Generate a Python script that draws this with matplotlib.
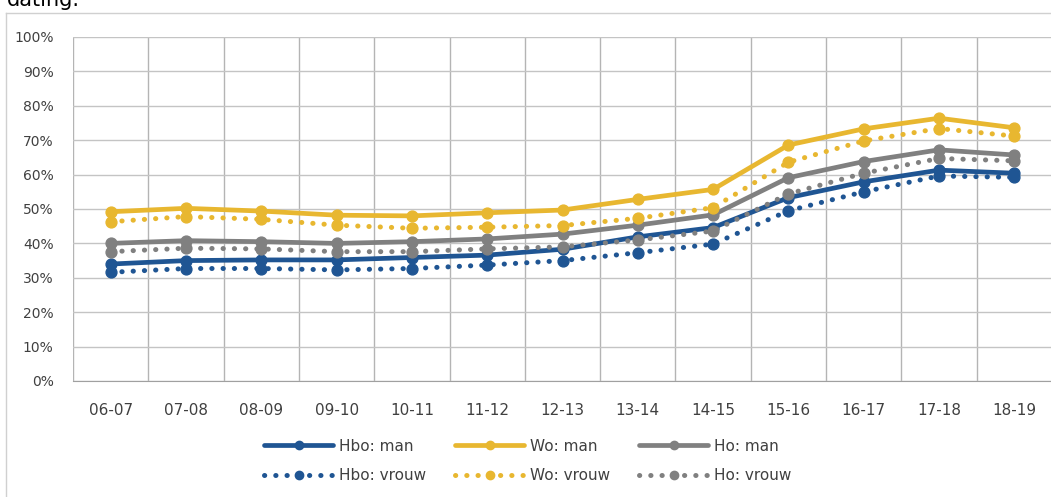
import numpy as np
from matplotlib import pyplot as plt

years = ['06-07', '07-08', '08-09', '09-10', '10-11', '11-12', '12-13',
         '13-14', '14-15', '15-16', '16-17', '17-18', '18-19']

# percentages
hbo_man   = [34.0, 35.0, 35.2, 35.2, 35.9, 36.6, 38.3, 41.9, 44.6, 53.3, 57.9, 61.3, 60.4]
hbo_vrouw = [31.6, 32.7, 32.7, 32.3, 32.7, 33.7, 35.0, 37.3, 39.8, 49.5, 55.0, 59.6, 59.2]
wo_man    = [49.2, 50.2, 49.4, 48.2, 48.0, 48.9, 49.7, 52.8, 55.7, 68.6, 73.3, 76.4, 73.6]
wo_vrouw  = [46.3, 47.8, 47.0, 45.3, 44.4, 44.7, 45.2, 47.3, 50.4, 63.6, 69.8, 73.4, 71.2]
ho_man    = [40.0, 40.8, 40.5, 40.0, 40.5, 41.3, 42.7, 45.3, 48.3, 59.1, 63.8, 67.2, 65.7]
ho_vrouw  = [37.6, 38.6, 38.4, 37.6, 37.6, 38.4, 39.0, 41.0, 43.6, 54.4, 60.4, 64.7, 64.0]

BLUE = '#1f5593'
YELLOW = '#e8b730'
GREY = '#808080'
TXT = '#404040'

W, H = 1051, 497
fig = plt.figure(figsize=(W / 100, H / 100), dpi=100)
fig.patch.set_facecolor('white')

# chart frame and the heading above it (cut off in the original)
fig.add_artist(plt.Line2D([6 / W, 6 / W], [0, 1 - 13 / H], color='#d0d0d0', lw=1))
fig.add_artist(plt.Line2D([6 / W, 1], [1 - 13 / H, 1 - 13 / H], color='#d0d0d0', lw=1))
fig.text(7 / W, 1 - 6 / H, 'dating.', fontsize=15, color='black', va='baseline')

ax = fig.add_axes([73 / W, 1 - 381 / H, (1052 - 73) / W, 344 / H])
x = np.arange(len(years))

solid = dict(lw=3.4, marker='o', ms=7.8, solid_capstyle='round')
dotted = dict(lw=3.6, marker='o', ms=7.8, ls=(0, (0.05, 2.2)), dash_capstyle='round')

l_hm, = ax.plot(x, hbo_man, color=BLUE, label='Hbo: man', **solid)
l_wm, = ax.plot(x, wo_man, color=YELLOW, label='Wo: man', **solid)
l_om, = ax.plot(x, ho_man, color=GREY, label='Ho: man', **solid)
l_hv, = ax.plot(x, hbo_vrouw, color=BLUE, label='Hbo: vrouw', **dotted)
l_wv, = ax.plot(x, wo_vrouw, color=YELLOW, label='Wo: vrouw', **dotted)
l_ov, = ax.plot(x, ho_vrouw, color=GREY, label='Ho: vrouw', **dotted)

ax.set_xlim(-0.5, len(years) - 0.5)
ax.set_ylim(0, 100)
ax.set_yticks(np.arange(0, 101, 10))
ax.set_yticklabels([f'{v}%' for v in range(0, 101, 10)])
ax.set_xticks(x)
ax.set_xticklabels(years)
ax.set_xticks(np.arange(-0.5, len(years), 1), minor=True)

ax.grid(axis='y', which='major', color='#c4c4c4', lw=1)
ax.grid(axis='x', which='minor', color='#b4b4b4', lw=1)
ax.set_axisbelow(True)
for s in ['top', 'right', 'left']:
    ax.spines[s].set_visible(False)
ax.spines['bottom'].set_color('#a0a0a0')

ax.tick_params(axis='both', which='both', length=0)
ax.tick_params(axis='y', labelsize=10, colors=TXT, pad=14)
ax.tick_params(axis='x', labelsize=11, colors=TXT, pad=16)

handles = [l_hm, l_hv, l_wm, l_wv, l_om, l_ov]
leg = fig.legend(handles=handles, ncol=3, loc='center',
                 bbox_to_anchor=(528 / W, 1 - 461 / H), frameon=False,
                 fontsize=11, handlelength=4.5, columnspacing=1.9,
                 labelspacing=0.95, handletextpad=0.4)
for t in leg.get_texts():
    t.set_color(TXT)
for h in leg.legend_handles:
    h.set_markersize(6)

fig.savefig('out.png', dpi=100)
